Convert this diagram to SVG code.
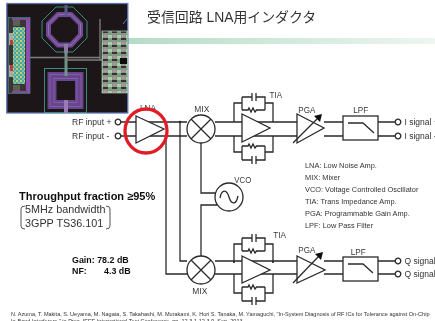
<svg xmlns="http://www.w3.org/2000/svg" width="435" height="321" viewBox="0 0 435 321">
<style>
text{font-family:"Liberation Sans",Arial,"Noto Sans CJK JP",sans-serif;fill:#333}
.l{font-size:9.600px;fill:#3a3a3a}
.m{font-size:8.500px}
.k{font-size:7.400px}
.b{font-weight:bold;fill:#111}
.w{fill:none;stroke:#2a2a2a;stroke-width:1.300}
.t{fill:#fff;stroke:#2a2a2a;stroke-width:1.300}
</style>
<defs>
<linearGradient id="g"><stop offset="0" stop-color="#b5dcc6"/><stop offset="1" stop-color="#edf6f1"/></linearGradient>
<filter id="s" x="-5%" y="-5%" width="110%" height="110%"><feGaussianBlur stdDeviation="0.6"/></filter>
<filter id="soft" x="0" y="0" width="100%" height="100%"><feGaussianBlur stdDeviation="0.3"/></filter>
<pattern id="dots" width="4" height="4" patternUnits="userSpaceOnUse"><rect width="4" height="4" fill="#4aa898"/><rect width="2" height="2" fill="#c9cf78"/><rect x="2" y="2" width="2" height="2" fill="#7fc0b0"/></pattern>
<pattern id="blk" width="9" height="7" patternUnits="userSpaceOnUse"><rect width="9" height="7" fill="#7f9a88"/><rect width="4" height="3" fill="#a8d0a0"/><rect x="4" y="3" width="5" height="2" fill="#3a2f35"/><rect x="5" width="3" height="2" fill="#c78a98"/></pattern>
<g id="mixer"><circle r="14" class="t"/><path d="M-10-10L10 10M-10 10L10-10" class="w"/></g>
<circle id="term" r="2.800" fill="#fff" stroke="#2a2a2a" stroke-width="1.300"/>
<path id="arrowhead" d="M0 0L-8 2L-2 8Z" fill="#111"/>
<path id="fb" class="w" d="M0 0V-19H8M8-25V-12M8-25H18M22-25H31V-12M8-12H14L15-14L17-10L19-14L21-10L22.500-12H31M31-19H39V0M18-29V-21M22-29V-21"/>
<path id="fbb" class="w" d="M0 0V16H8M8 10V24M8 10H14L15 8L17 12L19 8L21 12L22.500 10H31M31 16H39V0M31 10V24H22M8 24H18M18 20V28M22 20V28"/>
</defs>
<path d="M128 38H435V44H128Z" fill="url(#g)"/>
<g id="chip">
<rect x="6.800" y="3.500" width="121" height="109.500" fill="#1d1618" stroke="#5d76b5" stroke-width="1.300"/>
<g filter="url(#s)">
<path d="M56 7H73L87 21V38L73 52H56L42 38V21Z" fill="none" stroke="#3d8a80" stroke-width="1"/>
<path d="M58 14.500H71L80.500 24V35L71 45H58L48.500 35V24Z" fill="none" stroke="#6e4a96" stroke-width="5"/>
<path d="M58 14.500H71L80.500 24V35L71 45H58L48.500 35V24Z" fill="none" stroke="#a07cc0" stroke-width=".7"/>
<rect x="64.500" y="5" width="3" height="10" fill="#5a5a8a"/><rect x="64" y="44" width="4" height="9" fill="#8a7aa5"/>
<rect x="44.500" y="68.500" width="42" height="44" fill="none" stroke="#3d8a80"/>
<rect x="52" y="76.500" width="27" height="28" fill="none" stroke="#68448f" stroke-width="9"/>
<rect x="50" y="74.500" width="31" height="32" fill="none" stroke="#9570b0" stroke-width=".6"/>
<rect x="54" y="78.500" width="23" height="24" fill="none" stroke="#9570b0" stroke-width=".6"/>
<rect x="57" y="81" width="18" height="19" fill="#1d1618"/>
<rect x="64.500" y="52" width="3" height="24" fill="#6f9488"/>
<rect x="64" y="100" width="4" height="13" fill="#9a7ab5"/>
<path d="M30 57.500H100M100 19V60M66 60H105" stroke="#7e7e7c" stroke-width="1.300" fill="none"/>
<rect x="8.500" y="17.500" width="21.500" height="76" fill="#3a3638" stroke="#4a8a80" stroke-width=".7"/>
<rect x="26" y="18" width="4" height="75" fill="#8a4fb0"/>
<rect x="12" y="18" width="16" height="2" fill="#7a4fa0"/><rect x="12" y="91" width="16" height="2" fill="#7a4fa0"/>
<rect x="13" y="20" width="7" height="6" fill="#5e5e50"/><rect x="13" y="85" width="7" height="6" fill="#5e5e50"/>
<rect x="13" y="27" width="12" height="57" fill="url(#dots)"/>
<rect x="9" y="33" width="4" height="12" fill="#a9a9a9"/><rect x="9" y="65" width="4" height="12" fill="#a9a9a9"/>
<rect x="10" y="40" width="3" height="5" fill="#c23a3a"/><rect x="10" y="65" width="3" height="6" fill="#c23a3a"/>
<rect x="102" y="31" width="25.500" height="62" fill="url(#blk)" stroke="#a8c8b0" stroke-width=".7"/>
<rect x="120" y="58" width="7" height="6" fill="#111"/>
<path d="M123 24L127 19" stroke="#5d76b5" stroke-width="1"/>
</g>
</g>
<g filter="url(#soft)">
<text x="147" y="22" style="font-size:13.900px">受信回路 LNA用インダクタ</text>
<g id="connectors">
<path class="w" d="M121 122H187M121 136H187M215 122H297M215 136H297M324 122H343M324 136H343M378 122H395M378 136H395"/>
<path class="w" d="M166 136V274H187M180 122V261H187M201 143V193H216M201 256V205H217"/>
<path class="w" d="M215 261H297M215 274H297M324 261H343M324 274H343M378 261H395M378 274H395"/>
<circle cx="180" cy="122" r="1.300" fill="#2a2a2a"/>
<circle cx="166" cy="136" r="1.300" fill="#2a2a2a"/>
</g>
<g id="rf-inputs">
<text x="72" y="125" class="m">RF input +</text><text x="72" y="139" class="m">RF input -</text>
<use href="#term" x="118" y="122"/><use href="#term" x="118" y="136"/>
</g>
<g id="lna">
<path class="t" d="M136 116L164 129L136 143Z"/>
<text x="140" y="110.500" class="l" textLength="16" lengthAdjust="spacingAndGlyphs">LNA</text>
<ellipse cx="146" cy="131" rx="21" ry="22" fill="none" stroke="#e01f26" stroke-width="3.300"/>
</g>
<g id="mix-i"><use href="#mixer" x="201" y="129"/><text x="194.300" y="111.700" class="l" textLength="15" lengthAdjust="spacingAndGlyphs">MIX</text></g>
<g id="tia-i">
<use href="#fb" x="234" y="122"/><use href="#fbb" x="234" y="136"/>
<path class="t" d="M242 114L270 128L242 142Z"/>
<text x="269.500" y="98.300" class="l" textLength="12.500" lengthAdjust="spacingAndGlyphs">TIA</text>
</g>
<g id="pga-i">
<path class="t" d="M297 114L324 128L297 143Z"/>
<path class="w" d="M293 143L318 118"/>
<use href="#arrowhead" transform="translate(322 114)"/>
<text x="298.300" y="112.700" class="l" textLength="17" lengthAdjust="spacingAndGlyphs">PGA</text>
</g>
<g id="lpf-i">
<rect x="343" y="116" width="35" height="24" class="t"/>
<path class="w" d="M348 123H363L374 133"/>
<text x="353.300" y="112.700" class="l" textLength="15" lengthAdjust="spacingAndGlyphs">LPF</text>
</g>
<g id="i-outputs">
<use href="#term" x="398" y="122"/><use href="#term" x="398" y="136"/>
<text x="404.500" y="125" class="m">I signal +</text><text x="404.500" y="139" class="m">I signal -</text>
</g>
<g id="vco">
<circle cx="229" cy="197" r="14" class="t"/>
<path class="w" d="M220 198C222 188 227 190 229 197C231 204 236 206 238 196"/>
<text x="234.300" y="182.700" class="l" textLength="17" lengthAdjust="spacingAndGlyphs">VCO</text>
</g>
<g id="mix-q"><use href="#mixer" x="201" y="270"/><text x="192.300" y="294" class="l" textLength="15" lengthAdjust="spacingAndGlyphs">MIX</text></g>
<g id="tia-q">
<use href="#fb" x="234" y="263"/><use href="#fbb" x="234" y="277"/>
<path class="w" d="M234 261V263M273 261V263M234 274V277M273 274V277"/>
<path class="t" d="M242 256L270 270L242 283Z"/>
<text x="273.300" y="238.300" class="l" textLength="12.700" lengthAdjust="spacingAndGlyphs">TIA</text>
</g>
<g id="pga-q">
<path class="t" d="M297 256L325 270L297 283Z"/>
<path class="w" d="M293 283L319 256"/>
<use href="#arrowhead" transform="translate(323 252)"/>
<text x="298.300" y="253" class="l" textLength="17" lengthAdjust="spacingAndGlyphs">PGA</text>
</g>
<g id="lpf-q">
<rect x="343" y="257" width="35" height="24" class="t"/>
<path class="w" d="M348 264H363L373 273"/>
<text x="350.700" y="255" class="l" textLength="15" lengthAdjust="spacingAndGlyphs">LPF</text>
</g>
<g id="q-outputs">
<use href="#term" x="398" y="261"/><use href="#term" x="398" y="274"/>
<text x="404.500" y="264" class="m">Q signal +</text><text x="404.500" y="277" class="m">Q signal -</text>
</g>
<g id="legend">
<text x="305" y="168" class="k">LNA: Low Noise Amp.</text>
<text x="305" y="180" class="k">MIX: Mixer</text>
<text x="305" y="192" class="k">VCO: Voltage Controlled Oscillator</text>
<text x="305" y="204" class="k">TIA: Trans Impedance Amp.</text>
<text x="305" y="216" class="k">PGA: Programmable Gain Amp.</text>
<text x="305" y="228" class="k">LPF: Low Pass Filter</text>
</g>
<g id="notes">
<text x="19" y="200" class="b" style="font-size:11px">Throughput fraction ≥95%</text>
<text x="25" y="213" style="font-size:10.800px">5MHz bandwidth</text>
<text x="25" y="227" style="font-size:10.800px">3GPP TS36.101</text>
<path class="w" style="stroke-width:.8" d="M25 206Q21 206 21 209V226Q21 229 25 229M106 206Q110 206 110 209V226Q110 229 106 229"/>
<text x="72" y="263" class="b" style="font-size:8.900px">Gain: 78.2 dB</text>
<text x="72" y="274" class="b" style="font-size:8.900px">NF:<tspan x="104">4.3 dB</tspan></text>
</g>
<g id="citation">
<text x="11" y="316" style="font-size:5.550px">N. Azuma, T. Makita, S. Ueyama, M. Nagata, S. Takahashi, M. Murakami, K. Hori S. Tanaka, M. Yamaguchi, "In-System Diagnosis of RF ICs for Tolerance against On-Chip</text>
<text x="11" y="323" style="font-size:5.550px">In-Band Interferers," in Proc. IEEE International Test Conference, pp. 12.3.1-12.3.9, Sep. 2013.</text>
</g>
</g>
</svg>
